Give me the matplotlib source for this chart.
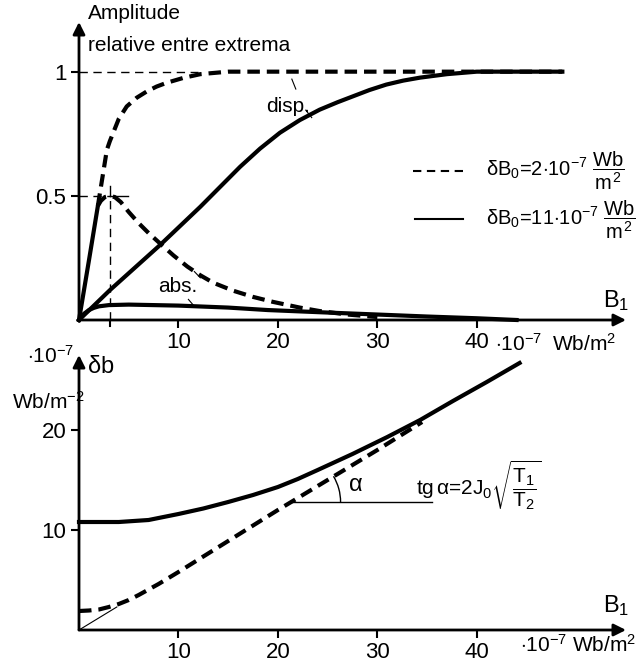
import numpy as np
import matplotlib
matplotlib.use('Agg')
import matplotlib.pyplot as plt
from matplotlib.patches import Arc

plt.rcParams['font.family'] = ['Liberation Sans', 'DejaVu Sans']
plt.rcParams['mathtext.fontset'] = 'custom'
plt.rcParams['mathtext.rm'] = 'Liberation Sans'
plt.rcParams['mathtext.it'] = 'Liberation Sans'
plt.rcParams['lines.scale_dashes'] = False

# ---- top chart: relative amplitude vs B1 (1e-7 Wb/m2) ----
# dB0 = 2e-7 : dispersion (dashed)
disp2_B = [1.9, 2.3, 2.8, 3.1, 3.6, 4.0, 4.8, 5.8, 6.8, 7.8, 8.8, 10.5, 12.2, 15.0, 48.6]
disp2_A = [0.46, 0.56, 0.685, 0.72, 0.77, 0.81, 0.86, 0.895, 0.92, 0.94, 0.955, 0.975, 0.99, 1.0, 1.0]
# common steep start of both dashed curves (drawn solid in the original)
start_B = [0.0, 1.0, 1.9]
start_A = [0.0, 0.24, 0.46]
# dB0 = 2e-7 : absorption (dashed)
abs2_B = [1.9, 2.2, 2.6, 3.1, 3.6, 4.2, 5.0, 6.0, 7.0, 8.1, 9.5, 10.9, 12.2, 13.5, 15.5, 17.5, 19.5, 22.2, 24.2, 27.0, 30.0]
abs2_A = [0.46, 0.48, 0.495, 0.50, 0.495, 0.475, 0.435, 0.39, 0.35, 0.31, 0.26, 0.215, 0.18, 0.15, 0.118, 0.093, 0.073, 0.05, 0.036, 0.022, 0.012]
# dB0 = 11e-7 : dispersion (solid)
disp11_B = [0.0, 3.1, 8.1, 12.2, 16.2, 18.2, 20.2, 22.2, 24.2, 26.0, 27.5, 29.2, 30.9, 32.6, 34.3, 37.0, 40.0, 48.6]
disp11_A = [0.0, 0.12, 0.30, 0.456, 0.617, 0.69, 0.754, 0.805, 0.847, 0.877, 0.90, 0.926, 0.948, 0.964, 0.976, 0.99, 1.0, 1.0]
# dB0 = 11e-7 : absorption (solid)
abs11_B = [0.0, 0.5, 1.0, 1.5, 2.0, 3.0, 5.0, 10.0, 15.0, 19.0, 25.0, 30.0, 35.0, 40.0, 44.0]
abs11_A = [0.0, 0.025, 0.04, 0.049, 0.055, 0.06, 0.062, 0.058, 0.05, 0.04, 0.03, 0.022, 0.014, 0.007, 0.0]

# ---- bottom chart: delta b vs B1 ----
db_sol_B = [0.0, 4.0, 7.0, 10.0, 12.5, 15.0, 17.5, 20.0, 22.0, 24.0, 27.5, 31.0, 34.3, 37.6, 41.0, 44.3]
db_sol = [10.8, 10.8, 11.0, 11.6, 12.15, 12.8, 13.5, 14.3, 15.1, 16.0, 17.6, 19.3, 21.0, 22.9, 24.8, 26.7]
db_dash_B = [0.0, 1.0, 2.0, 3.0, 4.0, 5.0, 6.0, 8.0, 10.0, 15.0, 20.0, 25.0, 30.0, 34.5]
db_dash = [1.9, 1.95, 2.05, 2.3, 2.6, 3.0, 3.5, 4.6, 5.8, 8.9, 12.0, 15.0, 18.0, 20.8]

x_ticks = [10, 20, 30, 40]

W, H = 643, 665
fig = plt.figure(figsize=(W / 100, H / 100), dpi=100)

def px_axes(x0, y_bottom, x1, y_top):
    return fig.add_axes([x0 / W, 1 - y_bottom / H, (x1 - x0) / W, (y_bottom - y_top) / H])

ax1 = px_axes(79, 320, 626, 22)
ax2 = px_axes(79, 630, 626, 355)

fs = 15
thick = 3.0
dash = (0, (9, 5))

for ax in (ax1, ax2):
    for s in ax.spines.values():
        s.set_visible(False)
    ax.patch.set_alpha(0)
    ax.tick_params(direction='out', length=6, width=1.5, labelsize=16, pad=3)
    ax.set_xticks(x_ticks)

ax1.set_xlim(0, 55)
ax1.set_ylim(0, 1.2)
ax2.set_xlim(0, 55)
ax2.set_ylim(0, 27.5)

# axis arrows
for ax, xmax, ymax in ((ax1, 55, 1.2), (ax2, 55, 27.5)):
    ax.annotate('', xy=(xmax, 0), xytext=(0, 0), annotation_clip=False,
                arrowprops=dict(arrowstyle='-|>', lw=2, color='k', mutation_scale=18, shrinkA=0, shrinkB=0))
    ax.annotate('', xy=(0, ymax), xytext=(0, 0), annotation_clip=False,
                arrowprops=dict(arrowstyle='-|>', lw=2, color='k', mutation_scale=18, shrinkA=0, shrinkB=0))

# top chart curves
ax1.plot(start_B, start_A, 'k-', lw=thick, clip_on=False)
ax1.plot(disp2_B, disp2_A, color='k', lw=thick, linestyle=dash, clip_on=False)
ax1.plot(abs2_B, abs2_A, color='k', lw=thick, linestyle=dash, clip_on=False)
ax1.plot(disp11_B, disp11_A, 'k-', lw=thick, clip_on=False)
ax1.plot(abs11_B, abs11_A, 'k-', lw=thick, clip_on=False)

# guide lines
ax1.plot([0, 12], [1, 1], color='k', lw=1, linestyle=(0, (6, 4)))
ax1.plot([0, 3.1], [0.5, 0.5], color='k', lw=1, linestyle=(0, (6, 4)))
ax1.plot([3.1, 3.1], [0, 0.5], color='k', lw=1, linestyle=(0, (6, 4)))
ax1.plot([3.1, 4.9], [0.5, 0.5], 'k-', lw=1)
ax1.plot([3.1, 3.1], [0.5, 0.54], 'k-', lw=1)
ax1.plot([3.1, 3.1], [0, -0.025], 'k-', lw=1.5, clip_on=False)

ax1.set_yticks([0.5, 1])
ax1.set_yticklabels(['0.5', '1'])
ax1.set_xticklabels([str(t) for t in x_ticks])

ax1.text(9 / 9.95, 1.235, 'Amplitude', fontsize=fs, ha='left', va='center')
ax1.text(9 / 9.95, 1.105, 'relative entre extrema', fontsize=fs, ha='left', va='center')
ax1.text(18.8, 0.86, 'disp.', fontsize=fs, ha='left', va='center')
ax1.plot([21.4, 21.8], [0.97, 0.93], 'k-', lw=0.8)
ax1.plot([22.8, 23.4], [0.845, 0.815], 'k-', lw=0.8)
ax1.text(8.0, 0.135, 'abs.', fontsize=fs, ha='left', va='center')
ax1.plot([11.0, 11.6], [0.083, 0.055], 'k-', lw=0.8)
ax1.plot([11.6, 12.2], [0.195, 0.17], 'k-', lw=0.8)
ax1.text(54.0, 0.08, r'B$_1$', fontsize=fs + 2, ha='center', va='center')
ax1.text(41.8, -0.095, r'$\cdot$10$^{-7}$', fontsize=fs, ha='left', va='center')
ax1.text(47.6, -0.095, r'Wb/m$^2$', fontsize=fs, ha='left', va='center')

# legend drawn by hand
ax1.plot([33.6, 38.6], [0.6, 0.6], color='k', lw=1.5, linestyle=(0, (6, 4)))
ax1.plot([33.8, 38.6], [0.405, 0.405], 'k-', lw=1.5)
ax1.text(40.9, 0.6, r'$\delta$B$_0$=2$\cdot$10$^{-7}$ $\dfrac{Wb}{m^2}$', fontsize=14.5, ha='left', va='center')
ax1.text(40.9, 0.405, r'$\delta$B$_0$=11$\cdot$10$^{-7}$ $\dfrac{Wb}{m^2}$', fontsize=14.5, ha='left', va='center')

# bottom chart curves
ax2.plot(db_sol_B, db_sol, 'k-', lw=thick, clip_on=False)
ax2.plot(db_dash_B, db_dash, color='k', lw=thick, linestyle=dash, clip_on=False)
ax2.plot([0, 3.8], [0, 2.3], 'k-', lw=0.8)
ax2.plot([21.3, 35.5], [12.8, 12.8], 'k-', lw=1)
ax2.add_patch(Arc((21.3, 12.8), 10.0, 10.0, theta1=0, theta2=31, color='k', lw=1))
ax2.text(27.0, 14.5, r'$\alpha$', fontsize=fs + 2, ha='left', va='center')
ax2.text(33.9, 14.5, r'tg$\,\alpha$=2J$_0\sqrt{\dfrac{T_1}{T_2}}$', fontsize=fs, ha='left', va='center')

ax2.set_yticks([10, 20])
ax2.set_yticklabels(['10', '20'])
ax2.set_xticklabels([str(t) for t in x_ticks])
ax2.text(54.0, 2.4, r'B$_1$', fontsize=fs + 2, ha='center', va='center')
ax2.text(44.3, -1.5, r'$\cdot$10$^{-7}$ Wb/m$^2$', fontsize=fs, ha='left', va='center')
ax2.text(-5.2, 27.4, r'$\cdot$10$^{-7}$', fontsize=fs, ha='left', va='center')
ax2.text(0.8, 26.3, r'$\delta$b', fontsize=fs + 2, ha='left', va='center')
ax2.text(-6.7, 22.8, r'Wb/m$^{-2}$', fontsize=fs, ha='left', va='center')

fig.savefig('out.png', dpi=100)
